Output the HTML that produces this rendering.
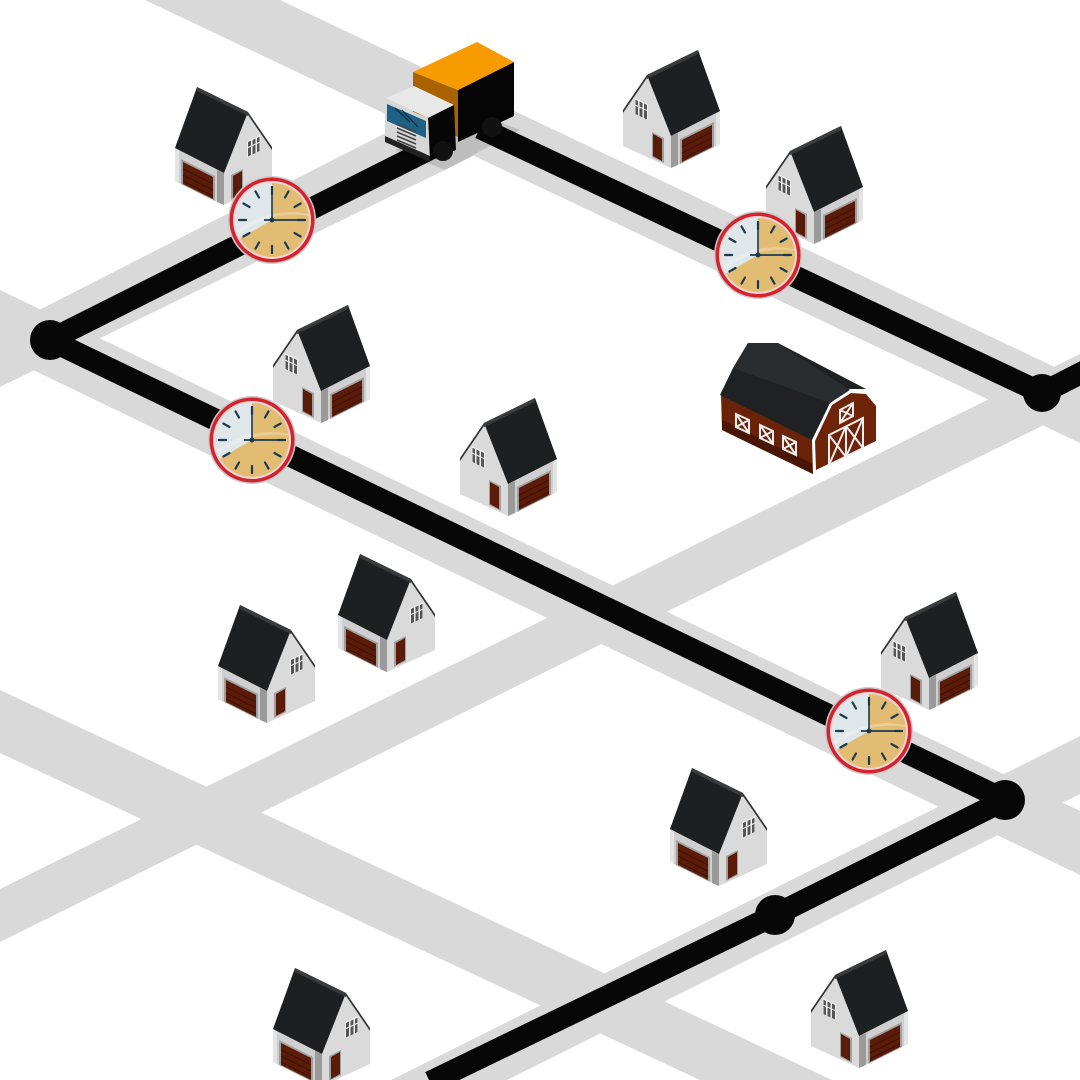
<!DOCTYPE html>
<html><head><meta charset="utf-8"><style>html,body{margin:0;padding:0;background:#fff}svg{display:block}</style></head><body>
<svg width="1080" height="1080" viewBox="0 0 1080 1080" xmlns="http://www.w3.org/2000/svg">
<defs>
<g id="h">
  <path d="M0,61 L49,86 L49,118 L0,94 Z" fill="#cfcfcf"/>
  <path d="M42,83 L49,86 L49,118 L42,115 Z" fill="#9a9a9a"/>
  <path d="M0,61 L4,63 L4,96 L0,94 Z" fill="#e4e4e4"/>
  <path d="M49,86 L73,25 L97,60 L97,96 L49,118 Z" fill="#dadada"/>
  <path d="M73,25 L97,60 L97,63 L73,28 Z" fill="#333"/>
  <path d="M22,0 L73,25 L49,86 L0,61 Z" fill="#1e1f21"/>
  <path d="M22,0 L73,25 L73,29 L22,4 Z" fill="#3a3b3d"/>
  <path d="M6,72 L40,89 L40,114 L6,97 Z" fill="#9f9f9f"/>
  <path d="M8,75 L38,90 L38,112 L8,97 Z" fill="#5a1b08"/>
  <path d="M8,82 L38,97 M8,88 L38,103 M8,94 L38,109" stroke="#3c1004" stroke-width="0.8"/>
  <path d="M56,88 L68,82 L68,107 L56,113 Z" fill="#9f9f9f"/>
  <path d="M58,89 L67,84 L67,106 L58,111 Z" fill="#5a1b08"/>
  <path d="M72,54 L85,48 L85,64 L72,70 Z" fill="#eee"/>
  <path d="M73,55 L76,53.5 L76,68 L73,69.5 Z M77.5,53 L80.5,51.5 L80.5,66 L77.5,67.5 Z M82,51 L84.5,49.7 L84.5,64 L82,65.2 Z" fill="#555"/>
  <path d="M72,61 L85,55" stroke="#eee" stroke-width="1.2"/>
</g>
<g id="clk">
  <circle r="44" fill="#c9c9c9"/>
  <circle r="42.5" fill="#d3232e"/>
  <circle r="39" fill="#f4d6d6"/>
  <circle r="37" fill="#dfe7ea"/>
  <path d="M0,0 L0,-37 A37,37 0 1 1 -32,18.5 Z" fill="#e2bc72"/>
  <path d="M-35,10 Q0,-14 37,-6 L37,-4 Q0,-10 -34,14 Z" fill="#fff" opacity="0.25"/>
  <g stroke="#1b3b52" stroke-width="2.2" stroke-linecap="round">
    <line x1="0" y1="-33" x2="0" y2="-26"/><line x1="0" y1="33" x2="0" y2="26"/>
    <line x1="33" y1="0" x2="26" y2="0"/><line x1="-33" y1="0" x2="-26" y2="0"/>
    <line x1="16.5" y1="-28.6" x2="13" y2="-22.5"/><line x1="28.6" y1="-16.5" x2="22.5" y2="-13"/>
    <line x1="28.6" y1="16.5" x2="22.5" y2="13"/><line x1="16.5" y1="28.6" x2="13" y2="22.5"/>
    <line x1="-16.5" y1="28.6" x2="-13" y2="22.5"/><line x1="-28.6" y1="16.5" x2="-22.5" y2="13"/>
    <line x1="-28.6" y1="-16.5" x2="-22.5" y2="-13"/><line x1="-16.5" y1="-28.6" x2="-13" y2="-22.5"/>
  </g>
  <line x1="0" y1="2" x2="0" y2="-34" stroke="#1b3b52" stroke-width="1.6"/>
  <line x1="-8" y1="0" x2="34" y2="0" stroke="#1b3b52" stroke-width="1.8"/>
  <circle r="2.5" fill="#1b3b52"/>
</g>
</defs>
<rect width="1080" height="1080" fill="#fff"/>
<g fill="#d9d9d9">
  <polygon points="145,0 280,0 1080,379 1080,443"/>
  <polygon points="0,330 0,387 535,126 470,90"/>
  <polygon points="0,290 1080,811 1080,875 0,354"/>
  <polygon points="0,889 0,942 1080,407 1080,354"/>
  <polygon points="0,690 832,1080 700,1080 0,753"/>
  <polygon points="1080,736 1080,794 507,1080 391,1080"/>
</g>
<g fill="none" stroke="#070707" stroke-width="22" stroke-linejoin="round">
  <polyline points="480,128 1042,393 1085,371"/>
  <polyline points="432,148 50,340 1005,800 775,915 430,1082"/>
</g>
<g fill="#070707">
  <circle cx="50" cy="340" r="20"/><circle cx="1042" cy="393" r="19"/>
  <circle cx="1005" cy="800" r="20"/><circle cx="775" cy="915" r="20"/>
</g>
<!-- houses type A -->
<use href="#h" x="175" y="87"/>
<use href="#h" x="338" y="554"/>
<use href="#h" x="218" y="605"/>
<use href="#h" x="670" y="768"/>
<use href="#h" x="273" y="968"/>
<!-- mirrored -->
<use href="#h" transform="translate(720,50) scale(-1,1)"/>
<use href="#h" transform="translate(863,126) scale(-1,1)"/>
<use href="#h" transform="translate(370,305) scale(-1,1)"/>
<use href="#h" transform="translate(557,398) scale(-1,1)"/>
<use href="#h" transform="translate(978,592) scale(-1,1)"/>
<use href="#h" transform="translate(908,950) scale(-1,1)"/>
<!-- barn -->
<g>
  <path d="M721,394 L813,440 L813,474 L722,430 Z" fill="#6a2208"/>
  <path d="M722,420 L813,464 L813,474 L722,430 Z" fill="#4a1604"/>
  <path d="M812,440 L830,403 L850,390 L868,391 L879,405 L879,442 L813,474 Z" fill="#fff"/>
  <path d="M815,441 L832,405 L851,393 L866,394 L876,406 L876,441 L816,470 Z" fill="#6e2408"/>
  <path d="M720,395 L733,368 L748,343 L778,343 L866,389 L849,389 L830,403 L812,440 Z" fill="#1f2123"/>
  <path d="M733,368 L748,343 L778,343 L850,390 L830,403 Z" fill="#2a2d30"/>
  <g fill="none" stroke="#eee" stroke-width="2">
    <path d="M736,414 L749,420 L749,433 L736,427 Z M736,414 L749,433 M749,420 L736,427"/>
    <path d="M760,425 L773,431 L773,444 L760,438 Z M760,425 L773,444 M773,431 L760,438"/>
    <path d="M783,436 L796,442 L796,455 L783,449 Z M783,436 L796,455 M796,442 L783,449"/>
    <path d="M840,410 L853,403 L853,416 L840,423 Z M840,410 L853,416 M853,403 L840,423"/>
    <path d="M829,435 L863,418 L863,448 L829,465 Z M846,426 L846,457 M829,435 L846,457 M846,426 L829,465 M846,426 L863,448 M863,418 L846,457"/>
  </g>
</g>
<!-- truck -->
<g>
  <path d="M395,150 L445,170 L520,130 L470,110 Z" fill="#000" opacity="0.12"/>
  <path d="M413,72 L458,90 L458,137 L413,117 Z" fill="#a86200"/>
  <path d="M458,90 L514,62 L514,116 L458,142 Z" fill="#050505"/>
  <path d="M413,72 L477,42 L514,62 L458,90 Z" fill="#f79b00"/>
  <circle cx="492" cy="127" r="10" fill="#111"/>
  <path d="M386,98 L414,86 L454,105 L428,118 Z" fill="#e8e8e8"/>
  <path d="M428,118 L454,105 L456,150 L430,160 Z" fill="#060606"/>
  <path d="M385,100 L428,118 L430,160 L385,140 Z" fill="#d7d7d7"/>
  <path d="M387,104 L426,121 L426,138 L387,121 Z" fill="#1f6185"/>
  <path d="M395,108 L410,122 M402,110 L418,127" stroke="#0a2a3d" stroke-width="1.2"/>
  <g stroke="#444" stroke-width="1.6"><path d="M397,124 L416,132 M397,128 L416,136 M397,132 L416,140 M397,136 L416,144 M397,140 L416,148"/></g>
  <path d="M385,136 L430,156 L430,162 L385,142 Z" fill="#222"/>
  <circle cx="443" cy="151" r="10" fill="#111"/>
</g>
<use href="#clk" x="272" y="220"/>
<use href="#clk" x="758" y="255"/>
<use href="#clk" x="252" y="440"/>
<use href="#clk" x="869" y="731"/>
</svg>
</body></html>
